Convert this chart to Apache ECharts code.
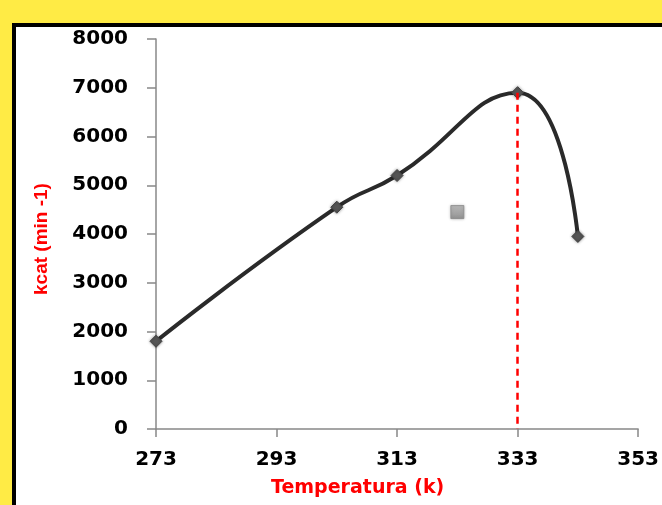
<!DOCTYPE html>
<html>
<head>
<meta charset="utf-8">
<script src="https://cdn.jsdelivr.net/npm/echarts@6/dist/echarts.min.js"></script>
<style>
  html, body { margin: 0; padding: 0; background: #FFEB45; }
  #chart { width: 662px; height: 505px; }
</style>
</head>
<body>
<div id="chart"></div>
<script>
// Temperature (K) and catalytic rate kcat (min^-1)
const temperatures = [273, 303, 313, 333, 343];
const kcatValues = [1800, 4550, 5200, 6900, 3950];
// Stray point drawn as a grey square
const extraPoint = [323, 4450];
// Optimum temperature marked with a dashed line
const optimumTemp = 333;
const optimumKcat = 6900;
const xTicks = [273, 293, 313, 333, 353];

const chart = echarts.init(document.getElementById('chart'));
const tickFont = { fontFamily: 'DejaVu Sans', fontWeight: 'bold', fontSize: 20, color: '#000' };
const plain = v => String(v);

chart.setOption({
  backgroundColor: '#FFEB45',
  animation: false,
  grid: { left: 156, right: 21, top: 39, bottom: 76, containLabel: false },
  graphic: [
    {
      type: 'rect', z: -10, silent: true,
      shape: { x: 14, y: 25, width: 720, height: 600 },
      style: { fill: '#fff', stroke: '#000', lineWidth: 4 }
    },
    {
      type: 'text', left: 271, top: 479,
      style: { text: 'Temperatura (k)', fill: '#ff0000', font: 'bold 19px "DejaVu Sans"' }
    },
    {
      type: 'text', rotation: Math.PI / 2, x: 32, y: 295,
      style: { text: 'kcat (min -1)', fill: '#ff0000', font: 'bold 19px "Liberation Sans"' }
    }
  ],
  xAxis: {
    type: 'value', min: 273, max: 353,
    splitLine: { show: false },
    axisLine: { lineStyle: { color: '#888', width: 1.5 } },
    axisTick: { show: true, length: 8, customValues: xTicks, lineStyle: { color: '#888', width: 1.5 } },
    axisLabel: Object.assign({ margin: 21, customValues: xTicks, formatter: plain }, tickFont)
  },
  yAxis: {
    type: 'value', min: 0, max: 8000, interval: 1000,
    splitLine: { show: false },
    axisLine: { show: true, lineStyle: { color: '#888', width: 1.5 } },
    axisTick: { show: true, length: 9, lineStyle: { color: '#888', width: 1.5 } },
    axisLabel: Object.assign({ margin: 28, formatter: plain }, tickFont)
  },
  series: [
    {
      type: 'line',
      data: temperatures.map((t, i) => [t, kcatValues[i]]),
      smooth: 0.5,
      symbol: 'diamond',
      symbolSize: 12,
      lineStyle: { color: '#2a2a2a', width: 4 },
      itemStyle: { color: '#555', borderColor: '#444', borderWidth: 1, shadowBlur: 3, shadowColor: 'rgba(0,0,0,0.4)' },
      markLine: {
        silent: true,
        symbol: 'none',
        label: { show: false },
        lineStyle: { color: '#ff0000', type: [7, 5], width: 2.5 },
        data: [[{ coord: [optimumTemp, optimumKcat] }, { coord: [optimumTemp, 0] }]]
      },
      z: 3
    },
    {
      type: 'scatter',
      data: [extraPoint],
      symbol: 'rect',
      symbolSize: 13,
      itemStyle: {
        color: new echarts.graphic.LinearGradient(0, 0, 0, 1, [
          { offset: 0, color: '#b5b5b5' }, { offset: 1, color: '#888' }
        ]),
        borderColor: '#888', borderWidth: 1,
        shadowBlur: 3, shadowColor: 'rgba(0,0,0,0.3)'
      }
    }
  ]
});
</script>
</body>
</html>
